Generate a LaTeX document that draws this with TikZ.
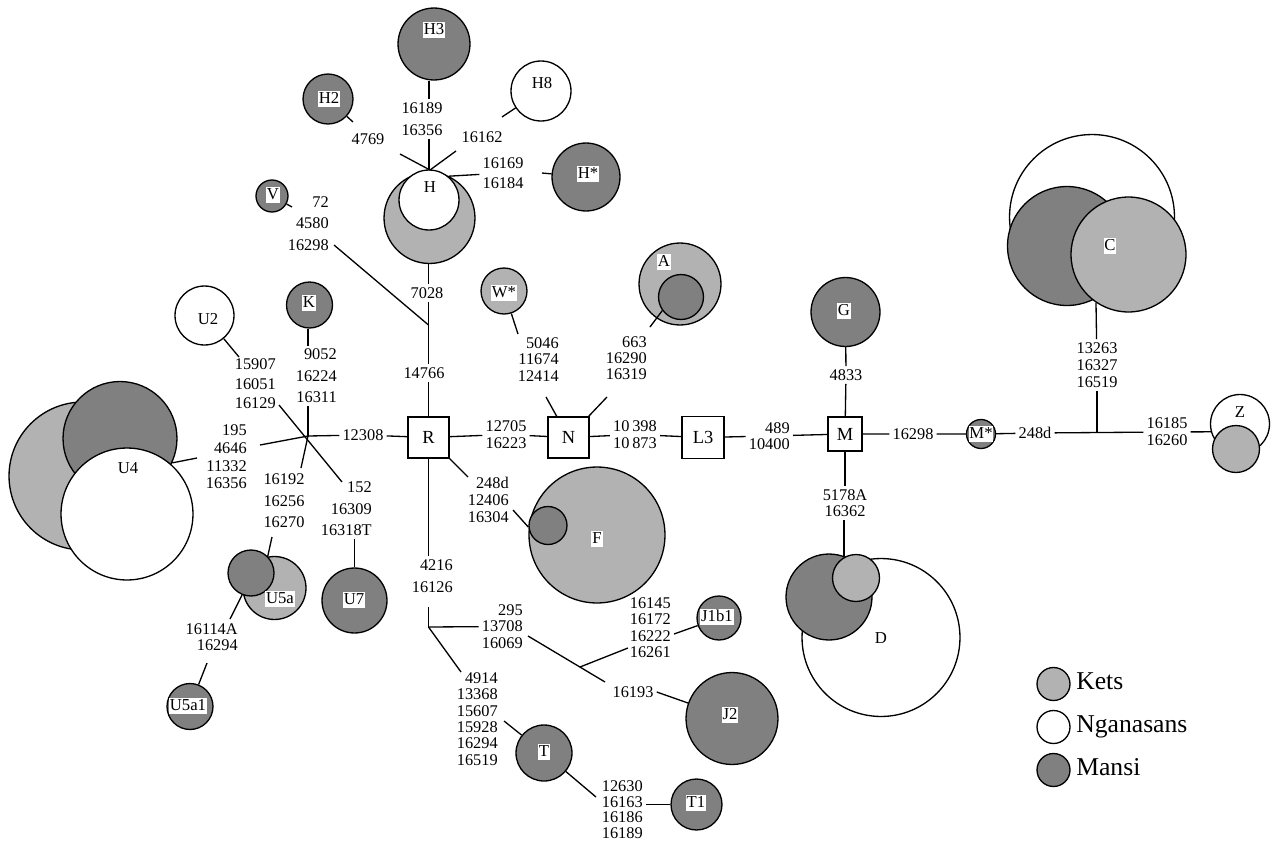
\documentclass[tikz,border=0pt]{standalone}
\usepackage{fontspec}
\setmainfont{Liberation Serif}
\usepackage{xcolor}
\usepackage{tikz}
\usetikzlibrary{positioning}
\definecolor{ketgray}{gray}{0.70}
\definecolor{mangray}{gray}{0.50}

\begin{document}
\begin{tikzpicture}[
    x=0.02cm, y=-0.02cm,
    line width=0.75pt,
    hap/.style={circle, draw, inner sep=0pt, minimum size=#1*0.04cm},
    ket/.style={hap=#1, fill=ketgray},
    ngn/.style={hap=#1, fill=white},
    man/.style={hap=#1, fill=mangray},
    tag/.style={fill=white, inner xsep=0.5pt, inner ysep=0.3pt, text height=7pt, text depth=2pt, font=\fontsize{9.5}{11}\selectfont},
    nm/.style={inner sep=0.5pt, font=\fontsize{9.5}{11}\selectfont},
    mut/.style={align=center, inner sep=1.5pt, font=\fontsize{9.3}{#1}\selectfont},
    mut/.default=9.4pt,
    mutr/.style={mut=#1, align=right, anchor=east},
    mutr/.default=9.4pt,
    box/.style={draw, fill=white, minimum size=#1*0.02cm, inner sep=0pt, font=\fontsize{10.5}{12}\selectfont},
    box/.default=41,
    key/.style={anchor=base west, inner sep=1.5pt, font=\fontsize{14.6}{16}\selectfont}
]
\useasboundingbox (0,0) rectangle (1275,842);

\node[man=36] (h3) at (434,44) {};
\node[tag] (h3-l) at (434,30) {H3};
\node[man=25] (h2) at (328,99) {};
\node[tag] (h2-l) at (329,99) {H2};
\node[ngn=30] (h8) at (541,91) {};
\node[nm] (h8-l) at (542,83) {H8};
\node[man=34] (hs) at (586,177) {};
\node[tag] (hs-l) at (588,174) {H*};
\node[ket=45.5] (hk) at (429.5,218) {};
\node[ngn=30] (hw) at (429,200) {};
\node[nm] (hw-l) at (430,187) {H};
\node[man=16] (v) at (272,196) {};
\node[tag] (v-l) at (273,195) {V};
\node[man=23] (k) at (309.5,305) {};
\node[tag] (k-l) at (309,303) {K};
\node[ngn=29.5] (u2) at (204.5,315.5) {};
\node[nm] (u2-l) at (208,319) {U2};
\node[ket=74] (u4k) at (83,476) {};
\node[man=57] (u4d) at (120,438.5) {};
\node[ngn=66] (u4w) at (127,514) {};
\node[nm] (u4-l) at (128,468) {U4};
\node[ket=31.5] (u5k) at (274.5,588) {};
\node[man=23] (u5d) at (251,573) {};
\node[tag] (u5-l) at (280,599) {U5a};
\node[man=23] (u51) at (190,706.5) {};
\node[tag] (u51-l) at (188,706) {U5a1};
\node[man=32.5] (u7) at (354.5,600.5) {};
\node[tag] (u7-l) at (354,600) {U7};
\node[ket=23] (w) at (504,291) {};
\node[tag] (w-l) at (504,293) {W*};
\node[ket=41] (ak) at (680,284) {};
\node[man=22.5] (ad) at (681,297) {};
\node[tag] (a-l) at (664,262) {A};
\node[ket=68] (fk) at (597,535) {};
\node[man=19] (fd) at (548,525.5) {};
\node[tag] (f-l) at (597,539) {F};
\node[man=34.5] (g) at (845.5,312) {};
\node[tag] (g-l) at (844,311) {G};
\node[ngn=79] (dw) at (881,637.5) {};
\node[man=43] (dk) at (829,597) {};
\node[ket=23.5] (dl) at (856,578) {};
\node[nm] (d-l) at (881,638) {D};
\node[man=14.5] (ms) at (981,434) {};
\node[tag] (ms-l) at (981,434) {M*};
\node[ngn=82.5] (cw) at (1092,217) {};
\node[man=59.5] (cd) at (1067,246) {};
\node[ket=57.5] (cl) at (1128.5,254.5) {};
\node[tag] (c-l) at (1110,246) {C};
\node[ngn=29.5] (zw) at (1240,424) {};
\node[ket=23.5] (zl) at (1236,449) {};
\node[nm] (z-l) at (1240,412) {Z};
\node[man=22] (j1) at (719,618) {};
\node[tag] (j1-l) at (717,617) {J1b1};
\node[man=46] (j2) at (732,718.5) {};
\node[tag] (j2-l) at (730,715) {J2};
\node[man=28] (t) at (544,753) {};
\node[tag] (t-l) at (544,752) {T};
\node[man=25.5] (t1) at (696.5,804.5) {};
\node[tag] (t1-l) at (696,803) {T1};

\node[box] (r) at (428.5,437.5) {R};
\node[box] (n) at (568.5,437.5) {N};
\node[box=42] (l3) at (703,437.5) {L3};
\node[box=34] (m) at (845,434) {M};

\node[mut=12.4pt] (m-h3) at (422,119) {16189\\16356};
\node[mut] (m-h2) at (368,139) {4769};
\node[mut] (m-h8) at (482,137) {16162};
\node[mut=11.4pt] (m-hs) at (503,173) {16169\\16184};
\node[mut] (m-hk) at (427,293) {7028};
\node[mutr=12.2pt] (m-v) at (332,223.5) {72\\4580\\16298};
\node[mut] (m-r) at (424,373) {14766};
\node[mutr=12.2pt] (m-k) at (340,376) {9052\\16224\\16311};
\node[mutr=11.1pt] (m-u2) at (279,384) {15907\\16051\\16129};
\node[mut] (m-rl) at (363,435) {12308};
\node[mutr=10.1pt] (m-u4) at (250,457) {195\\4646\\11332\\16356};
\node[mut=12.2pt] (m-u5) at (284,501) {16192\\16256\\16270};
\node[mutr=12.2pt] (m-u7) at (375,509) {152\\16309\\16318T};
\node[mutr=9.1pt] (m-u51) at (241,637) {16114A\\16294};
\node[mut=9.7pt] (m-n) at (506,434.5) {12705\\16223};
\node[mut=9.7pt] (m-l3) at (635,434.5) {10\,398\\10\,873};
\node[mutr=9.1pt] (m-m) at (793,436) {489\\10400};
\node[mutr] (m-w) at (562,359.5) {5046\\11674\\12414};
\node[mutr=9.1pt] (m-a) at (650,358) {663\\16290\\16319};
\node[mut] (m-g) at (846,375) {4833};
\node[mut=9.1pt] (m-d) at (845,503) {5178A\\16362};
\node[mut] (m-ms) at (913,434) {16298};
\node[mut] (m-mz) at (1035,433) {248d};
\node[mut=9.7pt] (m-z) at (1167,432) {16185\\16260};
\node[mut=9.7pt] (m-c) at (1097,365) {13263\\16327\\16519};
\node[mutr=9.7pt] (m-f) at (512,500) {248d\\12406\\16304};
\node[mutr=12.4pt] (m-rd) at (456,576) {4216\\16126};
\node[mutr] (m-j) at (526,626.5) {295\\13708\\16069};
\node[mutr=9.3pt] (m-j1) at (674,627.5) {16145\\16172\\16222\\16261};
\node[mut] (m-j2) at (633,692) {16193};
\node[mutr=9.3pt] (m-t) at (501,719) {4914\\13368\\15607\\15928\\16294\\16519};
\node[mutr=8.9pt] (m-t1) at (646,809.5) {12630\\16163\\16186\\16189};

\node[ket=16.5] (lk) at (1053.5,684) {};
\node[key] (lk-t) at (1073,689) {Kets};
\node[ngn=16.5] (ln) at (1053.5,727) {};
\node[key] (ln-t) at (1073,732) {Nganasans};
\node[man=16.5] (lm) at (1053.5,770) {};
\node[key] (lm-t) at (1073,775) {Mansi};

\coordinate (htop) at (430,170);
\coordinate (h2a) at (353,122);
\coordinate (h2b) at (400,154);
\coordinate (h8a) at (502,117);
\coordinate (h8b) at (456,151);
\coordinate (hsa) at (542,173);
\coordinate (va) at (292,207);
\coordinate (vb) at (334,245);
\coordinate (rj) at (428.5,325);
\coordinate (kj) at (308,436);
\coordinate (u2a) at (239,357);
\coordinate (u2b) at (279,405);
\coordinate (u7a) at (342,482);
\coordinate (u4a) at (260,445);
\coordinate (u4b) at (197,458);
\coordinate (u5a) at (301,468);
\coordinate (u5b) at (272,537);
\coordinate (u5c) at (230,619);
\coordinate (u5e) at (207,663);
\coordinate (wa) at (518,334);
\coordinate (wb) at (546,397);
\coordinate (aa) at (650,327);
\coordinate (ab) at (607,397);
\coordinate (fa) at (468,477);
\coordinate (fb) at (513,510);
\coordinate (rdb) at (428.5,607);
\coordinate (tj) at (428.5,627);
\coordinate (ja) at (528,636);
\coordinate (jb) at (580,667);
\coordinate (jc) at (605,682);
\coordinate (jd) at (628,648);
\coordinate (je) at (674,634);
\coordinate (ta) at (461,672);
\coordinate (tb) at (504,721);
\coordinate (tc) at (596,797);
\coordinate (zj) at (1097,433);

\draw (hw |- h3.south) -- (hw |- m-h3.north);
\draw (hw |- m-h3.south) -- (hw);
\draw (h2) -- (h2a);
\draw (h2b) -- (htop);
\draw (h8) -- (h8a);
\draw (h8b) -- (htop);
\draw (hk.65) -- (m-hs);
\draw (hsa) -- (hs);
\draw (rj |- hk.south) -- (rj |- m-hk.north);
\draw (rj |- m-hk.south) -- (rj |- m-r.north);
\draw (rj |- m-r.south) -- (r);
\draw (v) -- (va);
\draw (vb) -- (rj);
\draw (r) -- (m-rl) -- (kj);
\draw (kj |- k.south) -- (kj |- m-k.north);
\draw (kj) -- (kj |- m-k.south);
\draw (u2) -- (u2a);
\draw (u2b) -- (u7a);
\draw (kj) -- (u4a);
\draw (u4b) -- (u4d.-25);
\draw (kj) -- (u5a);
\draw (u5b) -- (u5d.45);
\draw (u5d.-112) -- (u5c);
\draw (u5e) -- (u51);
\draw (u7) -- (u7 |- m-u7.south);
\draw (r) -- (m-n) -- (n) -- (m-l3) -- (l3) -- (m-m) -- (m) -- (m-ms) -- (ms) -- (m-mz) -- (m-z) -- (zw.195);
\draw (w) -- (wa);
\draw (wb) -- (n);
\draw (ad.-144) -- (aa);
\draw (ab) -- (n);
\draw (r.south east) -- (fa);
\draw (fb) -- (fd.185);
\draw (g) -- (m-g) -- (m);
\draw (m) -- (m-d);
\draw (dk.70) -- (dk.70 |- m-d.south);
\draw (cl.-124) -- (m-c);
\draw (zj) -- (m-c);
\draw (r) -- (r |- m-rd.north);
\draw (rdb) -- (tj);
\draw (tj) -- (m-j);
\draw (ja) -- (jc);
\draw (jb) -- (jd);
\draw (je) -- (j1);
\draw (m-j2.east) -- (j2);
\draw (tj) -- (ta);
\draw (tb) -- (t);
\draw (t) -- (tc);
\draw (t1) -- (t1 -| m-t1.east);
\end{tikzpicture}
\end{document}
